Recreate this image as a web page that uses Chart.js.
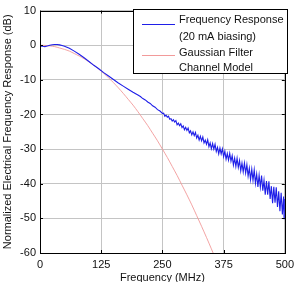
<!DOCTYPE html>
<html><head><meta charset="utf-8">
<script src="https://cdn.jsdelivr.net/npm/chart.js@4/dist/chart.umd.min.js"></script>
<style>html,body{margin:0;padding:0;background:#fff;overflow:hidden}#wrap{position:relative;width:299px;height:292px}</style>
</head><body><div id="wrap"><canvas id="c"></canvas></div>
<script>
const xTicks = [0, 125, 250, 375, 500];
const yTicks = [-60, -50, -40, -30, -20, -10, 0, 10];
const seriesLabels = [["Frequency Response", "(20 mA biasing)"], ["Gaussian Filter", "Channel Model"]];

const blueFreq = [0,0.4,1,5,10,15,20,25,30,35,40,45,50,55,60,70,80,90,100,110,120,130,140,150,160,170,180,190,200,205,210,215,220,225,230,235,240,245,
250,252.5,255,257.5,260,262.5,265,267.5,270,272.5,275,277.5,280,282.5,285,287.5,290,292.5,295,297.5,
300,302.5,305,307.5,310,312.5,315,317.5,320,322.5,325,327.5,330,332.5,335,337.5,
340,342.5,345,347.5,350,352.5,355,357.5,360,362.5,365,367.5,370,372.5,375,
377.5,380,382.5,385,387.5,390,392.5,395,397.5,400,402.5,405,407.5,410,412.5,415,417.5,420,
422.5,425,427.5,430,432.5,435,437.5,440,442.5,445,447.5,450,
452.5,455,457.5,460,462.5,465,467.5,470,472.5,475,477.5,480,
482.5,485,487.5,490,492.5,495,497.5,498.5,499.5,500];
const blueDb = [4.5,-7.5,-0.2,-0.3,-0.4,-0.2,0.0,0.15,0.2,0.2,0.1,-0.1,-0.3,-0.6,-0.9,-1.7,-2.6,-3.6,-4.7,-5.8,-6.8,-7.9,-8.9,-9.9,-10.9,-11.8,-12.7,-13.6,-14.4,-14.8,-15.4,-15.8,-16.4,-16.8,-17.5,-17.9,-18.6,-19.0,
-19.7,-19.6,-20.5,-20.2,-20.8,-20.5,-21.4,-21.2,-21.9,-21.5,-22.2,-21.8,-23.0,-22.5,-23.2,-22.7,-23.8,-23.3,-24.4,-23.7,
-24.6,-23.9,-25.3,-24.7,-25.9,-25.0,-26.1,-25.2,-26.8,-26.0,-27.4,-26.3,-27.6,-26.5,-28.2,-27.4,
-28.6,-27.3,-29.3,-28.2,-29.9,-28.4,-30.0,-28.6,-30.7,-29.5,-31.4,-29.7,-31.4,-29.9,-32.2,
-30.6,-32.9,-31.3,-33.2,-31.2,-33.5,-31.9,-34.6,-32.6,-35.0,-32.6,-35.3,-33.3,-36.3,-34.0,-36.6,-34.0,-36.9,
-34.5,-37.8,-35.5,-38.8,-35.8,-39.0,-36.0,-39.9,-37.2,-40.9,-37.5,-41.0,
-37.6,-42.0,-39.0,-43.2,-39.2,-43.2,-39.3,-44.4,-40.7,-45.6,-40.9,-45.5,
-41.0,-46.7,-42.2,-47.9,-42.6,-48.9,-43.7,-50.1,-44.4,-50.0];

const redFreq = [0,10,20,30,40,50,60,70,80,90,100,110,120,130,140,150,160,170,180,190,200,210,220,230,240,250,260,270,280,290,300,310,320,330,340,350,360];
const redDb = [0,-0.05,-0.2,-0.4,-0.8,-1.2,-1.7,-2.4,-3.1,-3.9,-4.8,-5.8,-6.9,-8.1,-9.4,-10.8,-12.3,-13.9,-15.6,-17.3,-19.2,-21.2,-23.2,-25.4,-27.6,-30.0,-32.4,-35.0,-37.6,-40.4,-43.2,-46.1,-49.2,-52.3,-55.5,-58.8,-62.2];

const FONT = '"Liberation Sans", Arial, sans-serif';
const blueColor = '#1f1fe8';
const redColor = '#f29a9a';

const framePlugin = {
  id: 'frame',
  afterDatasetsDraw(chart) {
    const {ctx, chartArea: a, scales} = chart;
    ctx.save();
    ctx.strokeStyle = '#000';
    ctx.lineWidth = 1;
    ctx.beginPath();
    xTicks.forEach(v => {
      const px = Math.round(scales.x.getPixelForValue(v)) + 0.5;
      ctx.moveTo(px, a.bottom); ctx.lineTo(px, a.bottom - 3);
      ctx.moveTo(px, a.top); ctx.lineTo(px, a.top + 3);
    });
    yTicks.forEach(v => {
      const py = Math.round(scales.y.getPixelForValue(v)) + 0.5;
      ctx.moveTo(a.left, py); ctx.lineTo(a.left + 3, py);
      ctx.moveTo(a.right, py); ctx.lineTo(a.right - 3, py);
    });
    ctx.stroke();
    ctx.strokeRect(Math.round(a.left) + 0.5, Math.round(a.top) + 0.5, Math.round(a.right - a.left), Math.round(a.bottom - a.top));
    // legend
    const lx = 133.5, ly = 9.5, lw = 154, lh = 64;
    ctx.fillStyle = '#fff';
    ctx.fillRect(lx, ly, lw, lh);
    ctx.strokeRect(lx, ly, lw, lh);
    const ds = chart.data.datasets;
    const rows = [[24.5, 20, 36.5], [55.5, 52.5, 68]];
    ctx.font = '11px ' + FONT;
    ctx.textBaseline = 'middle';
    ctx.textAlign = 'left';
    ds.forEach((d, i) => {
      ctx.strokeStyle = d.borderColor;
      ctx.lineWidth = 1;
      ctx.beginPath();
      ctx.moveTo(142, rows[i][0]); ctx.lineTo(175, rows[i][0]);
      ctx.stroke();
      ctx.fillStyle = '#111';
      ctx.fillText(seriesLabels[i][0], 179, rows[i][1]);
      ctx.fillText(seriesLabels[i][1], 179, rows[i][2]);
    });
    ctx.restore();
  }
};

new Chart(document.getElementById('c'), {
  type: 'line',
  data: {
    datasets: [
      { label: seriesLabels[0].join(' '), data: blueFreq.map((f, i) => ({x: f, y: blueDb[i]})),
        borderColor: blueColor, borderWidth: 1.1, pointRadius: 0, tension: 0, fill: false },
      { label: seriesLabels[1].join(' '), data: redFreq.map((f, i) => ({x: f, y: redDb[i]})),
        borderColor: redColor, borderWidth: 0.9, pointRadius: 0, tension: 0.3, fill: false }
    ]
  },
  options: {
    responsive: true, maintainAspectRatio: false, animation: false, devicePixelRatio: 1,
    layout: { padding: { top: 9, right: 9, left: 0, bottom: 0 } },
    plugins: { legend: { display: false }, tooltip: { enabled: false } },
    scales: {
      x: {
        type: 'linear', min: 0, max: 500,
        afterBuildTicks: s => { s.ticks = xTicks.map(v => ({ value: v })); },
        grid: { color: '#c4c4c4', drawTicks: false, lineWidth: 1 },
        border: { display: false },
        ticks: { padding: 5, color: '#111', font: { family: FONT, size: 11 }, maxRotation: 0, autoSkip: false },
        title: { display: true, text: 'Frequency (MHz)', color: '#111', font: { family: FONT, size: 11 }, padding: { top: 2, bottom: 7 } },
        afterFit: s => { s.height = 39; }
      },
      y: {
        type: 'linear', min: -60, max: 10,
        afterBuildTicks: s => { s.ticks = yTicks.map(v => ({ value: v })); },
        grid: { color: '#c4c4c4', drawTicks: false, lineWidth: 1 },
        border: { display: false },
        ticks: { padding: 4, color: '#111', font: { family: FONT, size: 11 }, autoSkip: false },
        title: { display: true, text: 'Normalized Electrical Frequency Response (dB)', color: '#111', font: { family: FONT, size: 11 }, padding: { top: 1, bottom: 0 } },
        afterFit: s => { s.width = 40; }
      }
    }
  },
  plugins: [framePlugin]
});
</script></body></html>
